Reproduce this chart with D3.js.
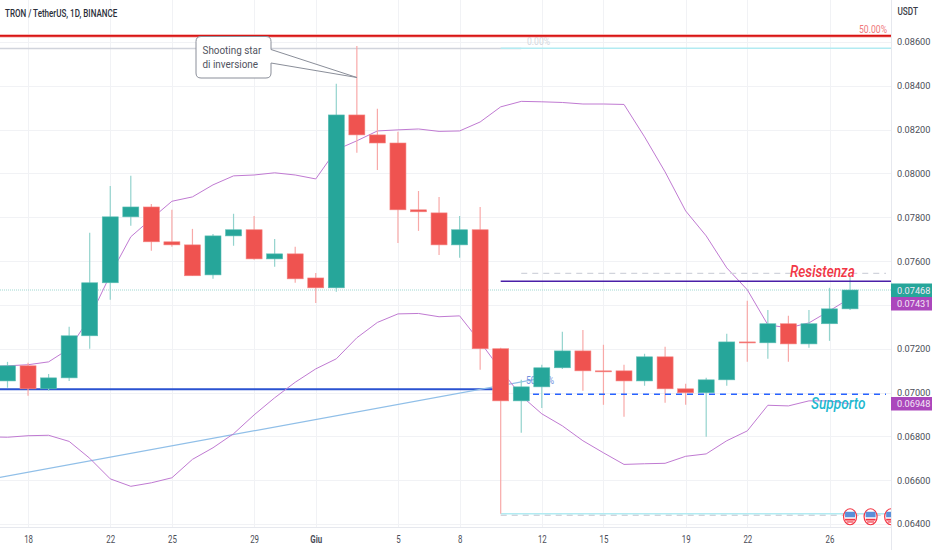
<!DOCTYPE html>
<html>
<head>
<meta charset="utf-8">
<script src="https://cdn.jsdelivr.net/npm/d3@7"></script>
<style>
  html, body { margin: 0; padding: 0; background: #fff; }
  svg { display: block; }
  text { font-family: Roboto, sans-serif; }
</style>
</head>
<body>
<div id="chart"></div>
<script>
const WIDTH = 932
const HEIGHT = 550
const PLOT_W = 891
const PLOT_H = 527.5

// candles
const days = ["2022-05-16","2022-05-17","2022-05-18","2022-05-19","2022-05-20","2022-05-21","2022-05-22","2022-05-23","2022-05-24","2022-05-25","2022-05-26","2022-05-27","2022-05-28","2022-05-29","2022-05-30","2022-05-31","2022-06-01","2022-06-02","2022-06-03","2022-06-04","2022-06-05","2022-06-06","2022-06-07","2022-06-08","2022-06-09","2022-06-10","2022-06-11","2022-06-12","2022-06-13","2022-06-14","2022-06-15","2022-06-16","2022-06-17","2022-06-18","2022-06-19","2022-06-20","2022-06-21","2022-06-22","2022-06-23","2022-06-24","2022-06-25","2022-06-26","2022-06-27"];
const opens = [.07020,.07053,.07122,.07017,.07067,.07259,.07501,.07802,.07847,.07688,.07674,.07537,.07715,.07743,.07610,.07633,.07523,.07478,.08267,.08176,.08139,.07834,.07820,.07674,.07743,.07200,.06962,.07026,.07113,.07190,.07099,.07099,.07053,.07163,.07017,.06999,.07058,.07231,.07227,.07314,.07222,.07314,.07382];
const highs = [.07070,.07140,.07136,.07085,.07300,.07729,.07943,.07989,.07861,.07834,.07747,.07724,.07816,.07806,.07701,.07665,.07546,.08409,.08582,.08295,.08190,.07920,.07893,.07806,.07847,.07204,.07058,.07127,.07277,.07286,.07218,.07127,.07177,.07209,.07040,.07067,.07268,.07419,.07377,.07350,.07377,.07478,.07528];
const lows = [.07000,.07022,.06985,.07008,.07053,.07200,.07423,.07761,.07647,.07665,.07533,.07519,.07670,.07606,.07574,.07501,.07409,.07460,.08094,.08016,.07683,.07738,.07628,.07615,.07104,.06447,.06816,.06930,.07108,.07008,.06944,.06889,.07031,.06953,.06944,.06798,.07031,.07140,.07154,.07140,.07204,.07236,.07377];
const closes = [.07053,.07122,.07017,.07067,.07259,.07501,.07802,.07847,.07688,.07674,.07533,.07715,.07743,.07610,.07633,.07519,.07478,.08267,.08176,.08139,.07834,.07825,.07674,.07743,.07200,.06962,.07026,.07113,.07190,.07099,.07095,.07053,.07163,.07017,.06999,.07058,.07231,.07227,.07314,.07222,.07314,.07382,.07468];

// bande di bollinger
const upperBand = [.07118,.07122,.07127,.07140,.07200,.07341,.07537,.07711,.07793,.07873,.07893,.07948,.07989,.07993,.08003,.07993,.07975,.08108,.08149,.08194,.08199,.08203,.08192,.08194,.08235,.08304,.08329,.08327,.08324,.08317,.08317,.08315,.08167,.08007,.07829,.07715,.07569,.07469,.07309,.07295,.07318,.07373,.07431];
const lowerBand = [.06798,.06796,.06803,.06805,.06777,.06700,.06606,.06572,.06588,.06611,.06695,.06748,.06812,.06898,.06976,.07047,.07108,.07154,.07250,.07320,.07359,.07361,.07346,.07350,.07231,.07104,.06985,.06903,.06848,.06780,.06725,.06672,.06675,.06677,.06709,.06720,.06780,.06825,.06942,.06939,.06962,.06962,.06948];

// assi
const priceTicks = [.064,.066,.068,.070,.072,.074,.076,.078,.080,.082,.084,.086];
const dayTicks = ["2022-05-18","2022-05-22","2022-05-25","2022-05-29","2022-06-01","2022-06-05","2022-06-08","2022-06-12","2022-06-15","2022-06-19","2022-06-22","2022-06-26"];
const dayLabels = ["18","22","25","29","Giu","5","8","12","15","19","22","26"];

// disegni
const eventDays = ["2022-06-27","2022-06-28","2022-06-29"];
const lastPrice = .07468, upperLast = .07431, lowerLast = .06948;

const parse = d3.utcParse("%Y-%m-%d");

const x = d3.scaleUtc()
    .domain([parse("2022-05-17"), parse("2022-06-29")])
    .range([7.5, 891.15]);

const y = d3.scaleLinear()
    .domain([.064, .086])
    .range([524, 42]);

// stringe il testo in orizzontale come nello screenshot
function squeeze(sel, k) {
    sel.each(function () {
        const w = this.getComputedTextLength();
        d3.select(this)
            .attr("textLength", w * k)
            .attr("lengthAdjust", "spacingAndGlyphs");
    });
    return sel;
}

const svg = d3.select("#chart")
    .append("svg")
    .attr("width", WIDTH)
    .attr("height", HEIGHT);

svg.append("defs").append("clipPath")
    .attr("id", "plot")
    .append("rect")
    .attr("width", PLOT_W)
    .attr("height", PLOT_H);

// griglia
const grid = svg.append("g").attr("stroke", "#f1f2f5").attr("stroke-width", 1);
grid.selectAll(".h").data(priceTicks).enter().append("line")
    .attr("x1", 0).attr("x2", PLOT_W)
    .attr("y1", d => Math.round(y(d)) + .5).attr("y2", d => Math.round(y(d)) + .5);
grid.selectAll(".v").data(dayTicks).enter().append("line")
    .attr("y1", 0).attr("y2", PLOT_H)
    .attr("x1", d => Math.round(x(parse(d))) + .5).attr("x2", d => Math.round(x(parse(d))) + .5);

const plot = svg.append("g").attr("clip-path", "url(#plot)");

function hline(price, from, to, color, w, dash) {
    const l = plot.append("line")
        .attr("x1", from ? x(parse(from)) : 0)
        .attr("x2", to ? x(parse(to)) : PLOT_W)
        .attr("y1", y(price)).attr("y2", y(price))
        .attr("stroke", color).attr("stroke-width", w);
    if (dash) l.attr("stroke-dasharray", dash);
    return l;
}

// linee sotto le candele
hline(lastPrice, null, null, "#9fd8d2", 1, "1 1");
hline(.08570, null, "2022-06-11", "#d1d4dc", 1.5);
hline(.08571, "2022-06-10", null, "#b2ebf2", 1.5);
hline(.06440, "2022-06-10", null, "#d1d4dc", 1.5, "6 5");
hline(.06447, "2022-06-10", null, "#b2ebf2", 1.5);
hline(.07015, null, "2022-06-10", "#2a52d1", 2);

plot.append("line")
    .attr("x1", x(parse("2022-05-16"))).attr("y1", y(.06602))
    .attr("x2", x(parse("2022-06-12"))).attr("y2", y(.07066))
    .attr("stroke", "#90bfe8").attr("stroke-width", 1.2);

squeeze(plot.append("text")
    .attr("x", 526).attr("y", 384)
    .attr("font-size", 10.5).attr("fill", "#6f8fe0")
    .text("50.00%"), .82);

squeeze(plot.append("text")
    .attr("x", 527).attr("y", 45)
    .attr("font-size", 10.5).attr("fill", "#d5d8de")
    .text("0.00%"), .82);

// bande
const bandLine = d3.line()
    .x((d, i) => x(parse(days[i])))
    .y(d => y(d));

[upperBand, lowerBand].forEach(band => {
    plot.append("path")
        .attr("d", bandLine(band))
        .attr("fill", "none")
        .attr("stroke", "#c07ad2")
        .attr("stroke-width", 1);
});

// candele
const GREEN = "#26a69a"
const RED = "#ef5350"
const candles = plot.selectAll(".candle")
    .data(days)
    .enter()
    .append("g")
    .attr("class", "candle");

candles.append("line")
    .attr("x1", d => x(parse(d))).attr("x2", d => x(parse(d)))
    .attr("y1", (d, i) => y(highs[i]))
    .attr("y2", (d, i) => y(lows[i]))
    .attr("stroke", (d, i) => closes[i] >= opens[i] ? "#93d3cd" : "#f8a9a8")
    .attr("stroke-width", 1.2);

candles.append("rect")
    .attr("x", d => x(parse(d)) - 8)
    .attr("width", 16)
    .attr("y", (d, i) => y(Math.max(opens[i], closes[i])))
    .attr("height", (d, i) => Math.max(1, Math.abs(y(opens[i]) - y(closes[i]))))
    .attr("fill", (d, i) => closes[i] >= opens[i] ? GREEN : RED)
    .attr("stroke", (d, i) => closes[i] >= opens[i] ? "#5cbdb4" : "#f58583")
    .attr("stroke-width", .6);

// linee sopra le candele
hline(.08628, null, null, "#f4a6a4", 3.4);
hline(.08628, null, null, "#d81414", 1.6);
hline(.07544, "2022-06-11", null, "#d1d4dc", 1.2, "6 5").attr("x2", 886);
hline(.07508, "2022-06-10", null, "#4a1fa8", 1.4);
hline(.06992, "2022-06-12", null, "#2962ff", 1.4, "6 5").attr("x1", 533).attr("x2", 886);

// callout
const tipX = x(parse("2022-06-03"));
const tipY = y(.08438);
svg.append("path")
    .attr("d", `M201 36.5 H266 Q271 36.5 271 41.5 V49.5 L${tipX} ${tipY} L271 63 V73 Q271 78 266 78 H201 Q196 78 196 73 V41.5 Q196 36.5 201 36.5 Z`)
    .attr("fill", "#fff")
    .attr("stroke", "#8a8e99")
    .attr("stroke-width", 1);

squeeze(svg.append("text").attr("x", 202.5).attr("y", 54)
    .attr("font-size", 11).attr("fill", "#50535e").text("Shooting star"), .9);
squeeze(svg.append("text").attr("x", 202.5).attr("y", 67.5)
    .attr("font-size", 11).attr("fill", "#50535e").text("di inversione"), .9);

// testi
squeeze(plot.append("text")
    .attr("x", 790).attr("y", 277)
    .attr("font-size", 16).attr("font-style", "italic").attr("font-weight", 500)
    .attr("fill", "#f23645")
    .text("Resistenza"), .85);
squeeze(plot.append("text")
    .attr("x", 811).attr("y", 409)
    .attr("font-size", 16).attr("font-style", "italic").attr("font-weight", 500)
    .attr("fill", "#22b8cf")
    .text("Supporto"), .85);
squeeze(plot.append("text")
    .attr("x", 859).attr("y", 33)
    .attr("font-size", 10.5).attr("fill", "#f0787a")
    .text("50.00%"), .82);

// bandierine
const flags = plot.selectAll(".flag").data(eventDays).enter().append("g")
    .attr("transform", d => `translate(${x(parse(d))},${y(.06433)})`);
flags.append("ellipse")
    .attr("rx", 6.5).attr("ry", 8)
    .attr("fill", "#fff").attr("stroke", "#f23645").attr("stroke-width", 1.2);
flags.append("rect")
    .attr("x", -5).attr("y", -5).attr("width", 10).attr("height", 5.5).attr("fill", "#5b8fd8");
flags.append("rect")
    .attr("x", -5).attr("y", 2).attr("width", 10).attr("height", 1.8).attr("fill", "#f23645");
flags.append("rect")
    .attr("x", -3.5).attr("y", 4.6).attr("width", 7).attr("height", 1.2).attr("fill", "#f23645");

// asse prezzi
const yAxis = svg.append("g")
    .attr("transform", `translate(${PLOT_W},0)`)
    .call(d3.axisRight(y).tickValues(priceTicks).tickFormat(d3.format(".5f")).tickSize(0).tickPadding(6));
yAxis.select(".domain").remove();
yAxis.selectAll("text")
    .attr("font-family", "Roboto, sans-serif")
    .attr("font-size", 9.2).attr("fill", "#4a4d57");

svg.append("line")
    .attr("x1", PLOT_W + .5).attr("x2", PLOT_W + .5).attr("y1", 0).attr("y2", HEIGHT)
    .attr("stroke", "#e6e8ee");

// asse date
const xAxis = svg.append("g")
    .attr("transform", `translate(0,${PLOT_H})`)
    .call(d3.axisBottom(x)
        .tickValues(dayTicks.map(parse))
        .tickFormat((d, i) => dayLabels[i])
        .tickSize(0).tickPadding(8));
xAxis.select(".domain").remove();
xAxis.selectAll("text")
    .attr("font-family", "Roboto, sans-serif")
    .attr("font-size", 10.5).attr("fill", "#4a4d57")
    .attr("font-weight", (d, i) => dayLabels[i] === "Giu" ? 700 : 400)
    .call(squeeze, .75);

svg.append("line")
    .attr("x1", 0).attr("x2", PLOT_W).attr("y1", PLOT_H).attr("y2", PLOT_H)
    .attr("stroke", "#e6e8ee");

// etichette prezzo
const tags = [
    { v: lastPrice, top: 283.5, c: GREEN },
    { v: upperLast, top: 297, c: "#ab47bc" },
    { v: lowerLast, top: 397, c: "#ab47bc" }
];
tags.forEach(t => {
    svg.append("rect")
        .attr("x", PLOT_W).attr("y", t.top)
        .attr("width", WIDTH - PLOT_W).attr("height", 13.5)
        .attr("fill", t.c);
    svg.append("text")
        .attr("x", 897).attr("y", t.top + 10.2)
        .attr("font-size", 9.2).attr("fill", "#f3e6f5")
        .text(d3.format(".5f")(t.v));
});

squeeze(svg.append("text")
    .attr("x", 897.5).attr("y", 15)
    .attr("font-size", 10).attr("font-weight", 500).attr("fill", "#3a3d47")
    .text("USDT"), .82);

squeeze(svg.append("text")
    .attr("x", 5).attr("y", 17)
    .attr("font-size", 11).attr("font-weight", 500).attr("fill", "#2a2e39")
    .text("TRON / TetherUS, 1D, BINANCE"), .73);
</script>
</body>
</html>
